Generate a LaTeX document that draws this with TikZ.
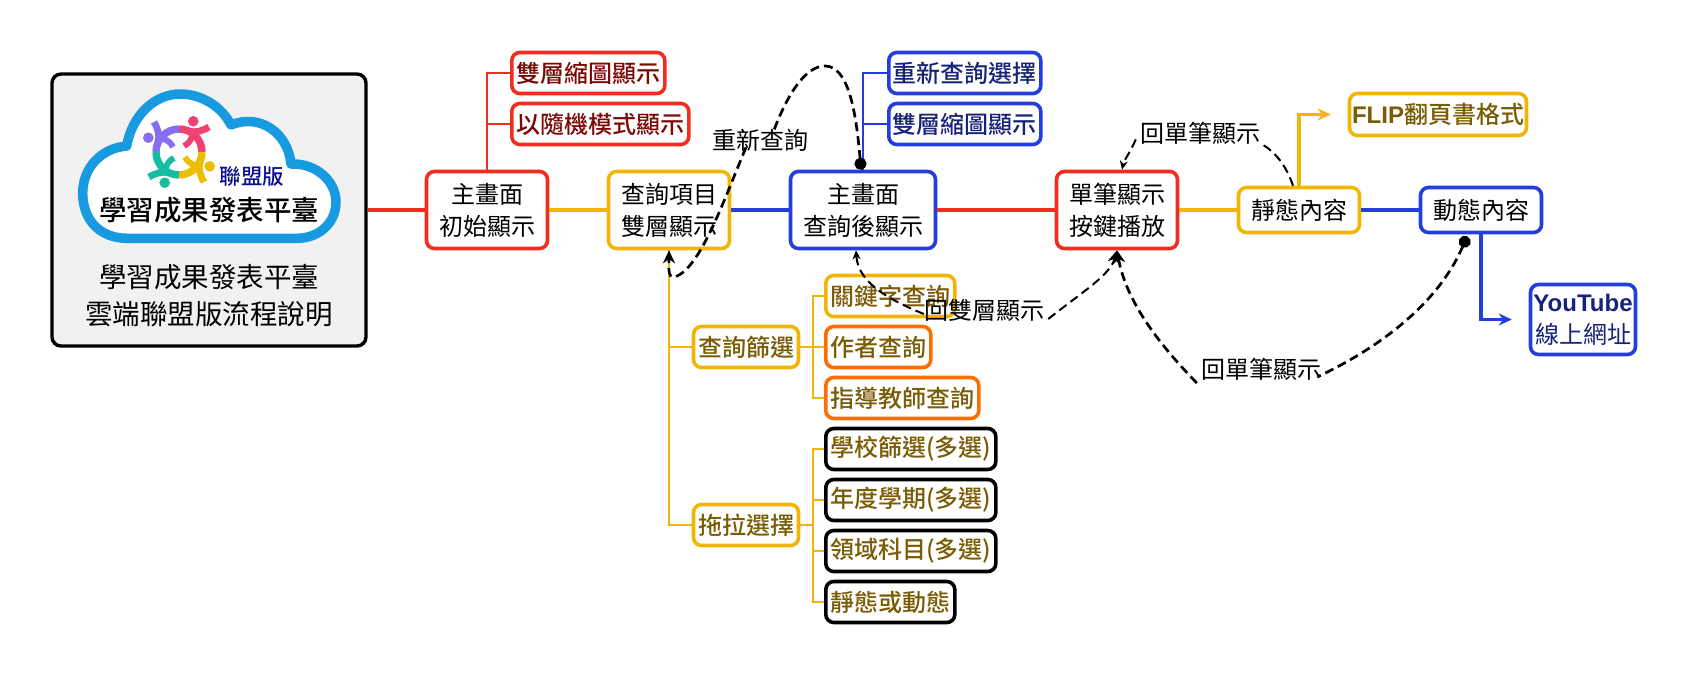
\documentclass[tikz,border=0pt]{standalone}
\usepackage{fontspec}
\setmainfont{Noto Sans CJK TC}
\newfontfamily\midfont{Noto Sans CJK TC Medium}
\newfontfamily\latinfont{Liberation Sans}
\usetikzlibrary{arrows.meta,positioning,calc}
\definecolor{redline}{RGB}{243,44,30}
\definecolor{goldline}{RGB}{243,181,5}
\definecolor{blueline}{RGB}{35,62,220}
\definecolor{orangeline}{RGB}{255,109,0}
\definecolor{redtext}{RGB}{122,10,5}
\definecolor{goldtext}{RGB}{122,92,5}
\definecolor{bluetext}{RGB}{22,35,120}
\definecolor{cloudblue}{RGB}{24,154,225}
\definecolor{panelgray}{RGB}{241,241,241}
\definecolor{cloudpurple}{RGB}{135,110,240}
\definecolor{cloudpink}{RGB}{240,65,115}
\definecolor{cloudgold}{RGB}{235,190,0}
\definecolor{cloudteal}{RGB}{20,190,160}
\tikzset{
  >={Stealth[length=13pt,width=12pt]},
  box/.style={draw=#1,line width=3.6pt,fill=white,rounded corners=8pt,align=center,
    inner sep=0pt,font=\fontsize{24}{32}\selectfont},
  box/.default=redline,
  side/.style={box=#1,anchor=west,minimum height=41pt,font=\fontsize{24}{32}\selectfont\midfont},
  link/.style={draw=#1,line width=3.2pt},
  link/.default=redline,
  twig/.style={draw=#1,line width=2.6pt},
  twig/.default=goldline,
  back/.style={draw=black,line width=#1,dash pattern=on 9pt off 5pt},
  back/.default=2.7pt,
  note/.style={inner sep=0pt,font=\fontsize{24}{28}\selectfont},
  % one of the four figures of the logo
  pics/member/.style={code={
    \draw[#1,line width=7.4pt] (0,-23) .. controls (12.7,-23) and (23,-12.7) .. (23,0);
    \draw[#1,line width=6.8pt] (10,-21) .. controls (17,-19) and (23,-21) .. (30,-25);
    \draw[#1,line width=6pt] (14,-19) .. controls (13,-12) and (9,-8) .. (5,-6);
    \fill[#1] (14.3,-30.7) circle (5.3);
  }},
}
\begin{document}
\begin{tikzpicture}[x=1pt,y=-1pt]
  \useasboundingbox (0,0) rectangle (1688,675);
  % left panel
  \node[draw=black,line width=3.4pt,fill=panelgray,rounded corners=9pt,minimum width=314pt,minimum height=272pt] (panel) at (209,210) {};
  \draw[cloudblue,line width=9.5pt,line join=round,fill=white] (126.7,238.3)
    .. controls (98,238) and (82.7,218) .. (82.7,193.3)
    .. controls (82.7,167) and (102,148) .. (126.7,146)
    .. controls (132,115) and (155,94) .. (180,94)
    .. controls (202,94) and (222,107) .. (231,125)
    .. controls (260,113) and (288,133) .. (291,164)
    .. controls (317,163) and (336,182) .. (336,202)
    .. controls (336,222) and (320,238.3) .. (296.7,238.3) -- cycle;
  \foreach \c/\r in {cloudpink/0,cloudgold/-90,cloudteal/-180,cloudpurple/-270}
    \pic[rotate=\r] at (179,152) {member=\c};
  \node[font=\fontsize{21.5}{24}\selectfont\midfont,text={rgb,255:red,10;green,15;blue,140},inner sep=0pt] (league) at (252,176) {聯盟版};
  \node[font=\fontsize{27.5}{32}\selectfont\midfont,inner sep=0pt] (cloudtitle) at (209,210) {學習成果發表平臺};
  \node[font=\fontsize{27.5}{37}\selectfont,align=center,inner sep=0pt] (paneltitle) at (209,296) {學習成果發表平臺\\雲端聯盟版流程說明};

  % main row
  \node[box,minimum width=121pt,minimum height=77pt] (start) at (487,210) {主畫面\\初始顯示};
  \node[box=goldline,minimum width=121pt,minimum height=77pt] (query) at (669,210) {查詢項目\\雙層顯示};
  \node[box=blueline,minimum width=145pt,minimum height=77pt] (result) at (863,210) {主畫面\\查詢後顯示};
  \node[box,minimum width=121pt,minimum height=77pt] (single) at (1117,210) {單筆顯示\\按鍵播放};
  \node[box=goldline,minimum width=121pt,minimum height=45pt] (static) at (1299,210) {靜態內容};
  \node[box=blueline,minimum width=121pt,minimum height=45pt] (dynamic) at (1481,210) {動態內容};
  \node[box=goldline,text=goldtext,minimum width=177pt,minimum height=42pt,font=\fontsize{24}{32}\selectfont\midfont] (flip) at (1438,114.5) {{\latinfont\bfseries FLIP}翻頁書格式};
  \node[box=blueline,text=bluetext,minimum width=105pt,minimum height=70pt] (youtube) at (1583,319.5) {{\latinfont\bfseries YouTube}\\線上網址};

  % side lists
  \foreach \n/\x/\y/\w/\c/\k/\t in {
    thumbA/510/73/153/redline/redtext/雙層縮圖顯示,
    randomA/510/124/177/redline/redtext/以隨機模式顯示,
    requeryB/887/73/152/blueline/bluetext/重新查詢選擇,
    thumbB/887/124/152/blueline/bluetext/雙層縮圖顯示,
    keyword/824/296/129/goldline/goldtext/關鍵字查詢,
    author/824/347/105/orangeline/goldtext/作者查詢,
    teacher/824/398/153/orangeline/goldtext/指導教師查詢,
    school/824/449/170/black/goldtext/學校篩選(多選),
    year/824/500/170/black/goldtext/年度學期(多選),
    field/824/551/170/black/goldtext/領域科目(多選),
    mode/824/602/129/black/goldtext/靜態或動態}
    \node[side=\c,text=\k,minimum width=\w pt] (\n) at (\x,\y) {\t};
  \node[box=goldline,text=goldtext,minimum width=105pt,minimum height=41pt,font=\fontsize{24}{32}\selectfont\midfont] (search) at (746,347) {查詢篩選};
  \node[box=goldline,text=goldtext,minimum width=105pt,minimum height=41pt,font=\fontsize{24}{32}\selectfont\midfont] (drag) at (746,525) {拖拉選擇};

  % connectors
  \foreach \a/\b/\c in {panel/start/redline,start/query/goldline,query/result/blueline,
    result/single/redline,single/static/goldline,static/dynamic/blueline}
    \draw[link=\c] (\a.east) -- (\b.west);
  \foreach \b in {thumbA,randomA} \draw[twig=redline] (start.north) |- (\b.west);
  \foreach \b in {requeryB,thumbB} \draw[twig=blueline] (result.north) |- (\b.west);
  \foreach \b in {search,drag} \draw[twig] (query.south) |- (\b.west);
  \foreach \b in {keyword,author,teacher} \draw[twig] (search.east) -- (813,347) |- (\b.west);
  \foreach \b in {school,year,field,mode} \draw[twig] (drag.east) -- (813,525) |- (\b.west);
  \draw[link=goldline,->,shorten >=17pt] (static.north) |- (flip.west);
  \draw[link=blueline,->,shorten >=17pt] (dynamic.south) |- (youtube.west);

  % dashed returns
  \node[note] (again) at (760,140) {重新查詢};
  \node[note] (backtwo) at (984,310) {回雙層顯示};
  \node[note] (backone) at (1261,369) {回單筆顯示};
  \node[note] (backtop) at (1200,133) {回單筆顯示};
  \draw[back,{Circle[length=12pt]}-] ([xshift=-2pt]result.north) .. controls (856,110) and (848,66) .. (825,66)
    .. controls (805,66) and (787,95) .. ([xshift=13pt,yshift=-4pt]again.north);
  \draw[back,->] ([xshift=-14pt,yshift=4pt]again.south) .. controls (722,205) and (700,268) .. (675,277)
    .. controls (667,279) and (669,265) .. (query.south);
  \draw[back=2pt,-{Stealth[length=9pt,width=8pt]}] ([yshift=-4pt]backtwo.west) .. controls (895,302) and (858,285) .. ([xshift=-7pt]result.south);
  \draw[back=2pt,->] ([xshift=4pt,yshift=-9pt]backtwo.east) .. controls (1085,290) and (1110,275) .. (single.south);
  \draw[back,{Circle[length=12pt]}-] ([xshift=-14pt,yshift=-2pt]dynamic.south) .. controls (1440,300) and (1385,345) .. ([xshift=-4pt,yshift=-8pt]backone.east);
  \draw[back,->] ([xshift=-4pt,yshift=-14pt]backone.west) .. controls (1150,335) and (1125,295) .. (single.south);
  \draw[back=2pt] ([xshift=-6pt]static.north) .. controls (1286,165) and (1275,152) .. ([xshift=2pt]backtop.south east);
  \draw[back=2pt,-{Stealth[length=9pt,width=8pt]}] ([xshift=-4pt,yshift=5pt]backtop.south west) .. controls (1130,153) and (1124,160) .. ([xshift=5pt]single.north);
\end{tikzpicture}
\end{document}
